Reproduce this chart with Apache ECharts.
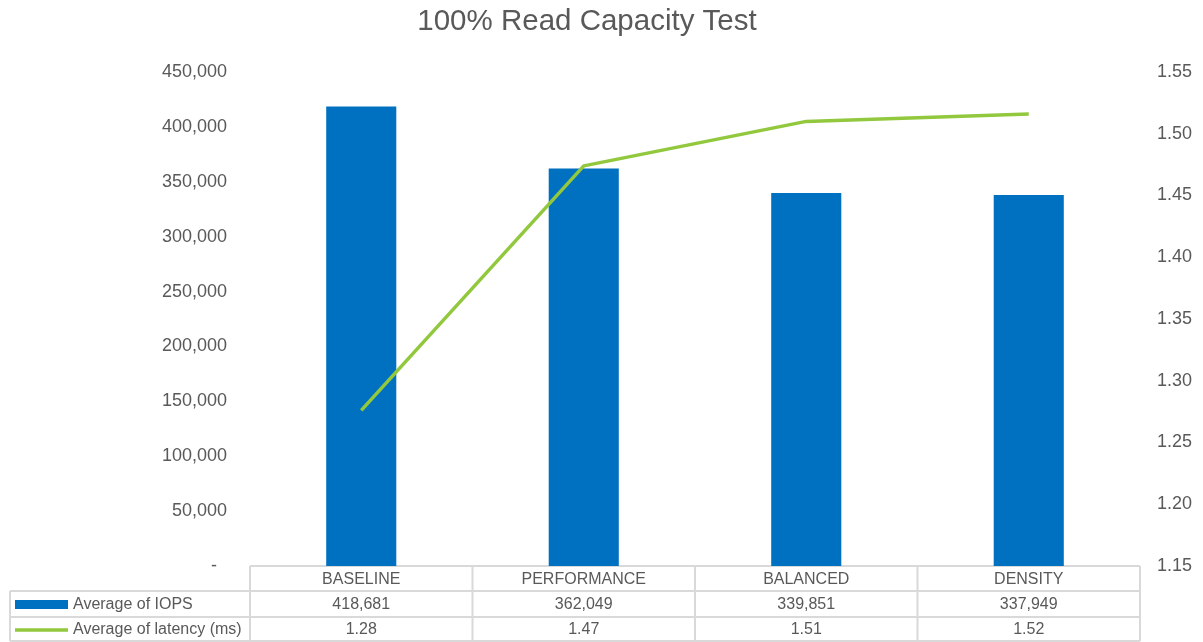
<!DOCTYPE html>
<html><head><meta charset="utf-8">
<script src="https://cdn.jsdelivr.net/npm/echarts@6/dist/echarts.min.js"></script>
<style>html,body{margin:0;padding:0;background:#fff}#c{width:1203px;height:642px}</style>
</head><body><div id="c"></div>
<script>
const categories = ['BASELINE', 'PERFORMANCE', 'BALANCED', 'DENSITY'];
const iops = [418681, 362049, 339851, 337949];
const latency = [1.276, 1.474, 1.510, 1.516];
const seriesNames = ['Average of IOPS', 'Average of latency (ms)'];
const titleText = '100% Read Capacity Test';

const FONT = 'Liberation Sans, Arial, sans-serif';
const TXT = '#595959';
const GRID = {left: 250, right: 63, top: 72, bottom: 76};
const chart = echarts.init(document.getElementById('c'), null, {renderer: 'canvas'});

function fmtInt(v){ return v.toLocaleString('en-US'); }

chart.setOption({
  animation: false,
  grid: GRID,
  xAxis: {type: 'category', data: categories, axisLine: {show: false}, axisTick: {show: false}, axisLabel: {show: false}, splitLine: {show: false}},
  yAxis: [
    {type: 'value', min: 0, max: 450000, interval: 50000, splitLine: {show: false}, axisLine: {show: false}, axisTick: {show: false},
     axisLabel: {margin: 23, fontFamily: FONT, fontSize: 18, color: TXT, formatter: v => v === 0 ? '-  ' : fmtInt(v)}},
    {type: 'value', min: 1.15, max: 1.55, interval: 0.05, splitLine: {show: false}, axisLine: {show: false}, axisTick: {show: false},
     axisLabel: {margin: 17, fontFamily: FONT, fontSize: 18, color: TXT, formatter: v => v.toFixed(2)}}
  ],
  series: [
    {name: seriesNames[0], type: 'bar', data: iops, barWidth: '31.5%', itemStyle: {color: '#0070C0'}},
    {name: seriesNames[1], type: 'line', yAxisIndex: 1, data: latency, symbol: 'none', lineStyle: {color: '#92C83E', width: 3.5}, itemStyle: {color: '#92C83E'}}
  ]
});

// data table
const W = 1203, H = 642;
const x0 = GRID.left, x1 = W - GRID.right, yBase = H - GRID.bottom;
const rowH = [25, 26, 24];
const y1 = yBase + rowH[0], y2 = y1 + rowH[1], y3 = y2 + rowH[2];
const legL = 10;
const n = categories.length;
const colW = (x1 - x0) / n;
const LC = '#d9d9d9';
const els = [];
els.push({type: 'text', x: 587, y: 22, style: {text: titleText, fill: TXT, font: '29.5px ' + FONT, textAlign: 'center', textVerticalAlign: 'middle'}, silent: true});
function line(xa, ya, xb, yb){ els.push({type: 'line', shape: {x1: xa, y1: ya, x2: xb, y2: yb}, style: {stroke: LC, lineWidth: 2}, silent: true}); }
line(x0, yBase, x1, yBase);
line(legL, y1, x1, y1);
line(legL, y2, x1, y2);
line(legL, y3, x1, y3);
line(legL, y1, legL, y3);
for (let i = 0; i <= n; i++) line(x0 + colW * i, yBase, x0 + colW * i, y3);
function text(x, y, t, align){ els.push({type: 'text', x: x, y: y, style: {text: t, fill: TXT, font: '16px ' + FONT, textAlign: align || 'center', textVerticalAlign: 'middle'}, silent: true}); }
for (let i = 0; i < n; i++) {
  const cx = chart.convertToPixel({xAxisIndex: 0}, categories[i]);
  text(cx, (yBase + y1) / 2 + 1, categories[i]);
  text(cx, (y1 + y2) / 2 + 1, fmtInt(iops[i]));
  text(cx, (y2 + y3) / 2 + 1, latency[i].toFixed(2));
}
els.push({type: 'rect', shape: {x: 15, y: (y1 + y2) / 2 - 4, width: 53, height: 9}, style: {fill: '#0070C0'}, silent: true});
els.push({type: 'line', shape: {x1: 15, y1: (y2 + y3) / 2 + 1, x2: 68, y2: (y2 + y3) / 2 + 1}, style: {stroke: '#92C83E', lineWidth: 3.5}, silent: true});
text(73, (y1 + y2) / 2 + 1, seriesNames[0], 'left');
text(73, (y2 + y3) / 2 + 1, seriesNames[1], 'left');
chart.setOption({graphic: {elements: els}});
</script></body></html>
